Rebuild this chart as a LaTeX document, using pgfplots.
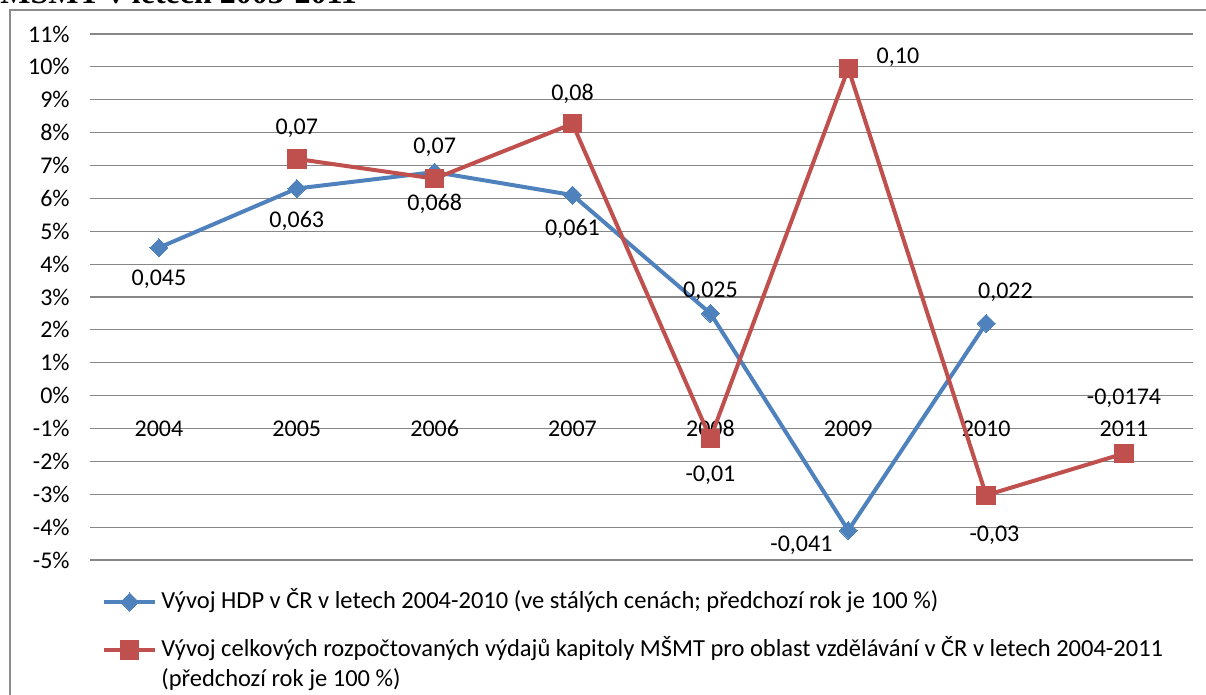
\documentclass[border=0pt]{standalone}
\usepackage{fontspec}
\setmainfont{Carlito}
\newfontfamily\titlefont{Liberation Serif}
\usepackage{pgfplots}
\pgfplotsset{compat=1.18}
\definecolor{xlblue}{HTML}{4F81BD}
\definecolor{xlred}{HTML}{C0504D}
\definecolor{gridgray}{HTML}{878787}
\definecolor{framegray}{HTML}{8C8C8C}

\begin{document}
\fontsize{12}{14.4}\selectfont
\begin{tikzpicture}
\useasboundingbox (0,0) rectangle (603pt,347.5pt);
\node[anchor=base west, inner sep=0pt, font=\titlefont\bfseries\fontsize{16}{18}\selectfont] at (0pt,345.5pt) {MŠMT v letech 2003-2011};
\draw[framegray, line width=1pt] (5pt,-10pt) -- (5pt,342.5pt) -- (620pt,342.5pt);
\begin{axis}[
  at={(45pt,67.5pt)}, anchor=south west,
  scale only axis, width=551.5pt, height=263pt,
  xmin=-0.5, xmax=7.5, ymin=-5, ymax=11,
  clip=false,
  axis x line*=middle, axis y line*=left,
  hide obscured x ticks=false, hide obscured y ticks=false,
  y axis line style={draw=none},
  x axis line style={gridgray, line width=0.6pt, -},
  xtick={0,1,2,3,4,5,6,7},
  xticklabels={2004,2005,2006,2007,2008,2009,2010,2011},
  ytick={-5,-4,-3,-2,-1,0,1,2,3,4,5,6,7,8,9,10,11},
  yticklabels={-5\%,-4\%,-3\%,-2\%,-1\%,0\%,1\%,2\%,3\%,4\%,5\%,6\%,7\%,8\%,9\%,10\%,11\%},
  major tick length=0pt,
  ymajorgrids, grid style={gridgray, line width=0.6pt},
  xticklabel style={yshift=-7.5pt, text height=8.5pt, text depth=0pt, font=\fontsize{12}{14}\selectfont},
  yticklabel style={xshift=-6pt, font=\fontsize{12}{14}\selectfont},
  legend style={at={(axis description cs:0.011,-0.059)}, anchor=north west,
    draw=none, fill=none, inner sep=0pt, outer sep=0pt, row sep=4pt, column sep=2pt,
    nodes={inner sep=0pt, text height=8.5pt, text depth=2.5pt, font=\fontsize{12.25}{14}\selectfont}},
  legend cell align=left,
  legend image code/.code={\draw[mark repeat=2,mark phase=2] plot coordinates {(0cm,0cm) (0.45cm,0cm) (0.9cm,0cm)};},
]
\addplot[xlblue, line width=2pt, mark=square*, mark size=3.2pt, mark options={rotate=45, fill=xlblue, draw=xlblue, line width=0pt}]
  coordinates {(0,4.5) (1,6.3) (2,6.8) (3,6.1) (4,2.5) (5,-4.1) (6,2.2)};
\addlegendentry{Vývoj HDP v ČR v letech 2004-2010 (ve stálých cenách; předchozí rok je 100 \%)}
\addlegendimage{empty legend}
\addlegendentry[text height=5pt, text depth=0pt]{}
\addplot[xlred, line width=2pt, mark=square*, mark size=4.6pt, mark options={fill=xlred, draw=xlred, line width=0pt}]
  coordinates {(1,7.2) (2,6.6) (3,8.27) (4,-1.3) (5,9.95) (6,-3.03) (7,-1.76)};
\addlegendentry{Vývoj celkových rozpočtovaných výdajů kapitoly MŠMT pro oblast vzdělávání v ČR v letech 2004-2011}
\addlegendimage{empty legend}
\addlegendentry{(předchozí rok je 100 \%)}

\begin{scope}[every node/.style={font=\fontsize{12}{14}\selectfont, inner sep=0pt}]
\node at (axis cs:0,3.53) {0,045};
\node at (axis cs:1,5.32) {0,063};
\node at (axis cs:2,7.54) {0,07};
\node at (axis cs:3,5.08) {0,061};
\node at (axis cs:4,3.16) {0,025};
\node at (axis cs:4.66,-4.56) {-0,041};
\node at (axis cs:6.14,3.13) {0,022};
\node at (axis cs:1,8.12) {0,07};
\node at (axis cs:2,5.84) {0,068};
\node at (axis cs:3,9.18) {0,08};
\node at (axis cs:4,-2.43) {-0,01};
\node at (axis cs:5.36,10.3) {0,10};
\node at (axis cs:6.06,-4.26) {-0,03};
\node at (axis cs:7,-0.09) {-0,0174};
\end{scope}
\end{axis}
\end{tikzpicture}
\end{document}
